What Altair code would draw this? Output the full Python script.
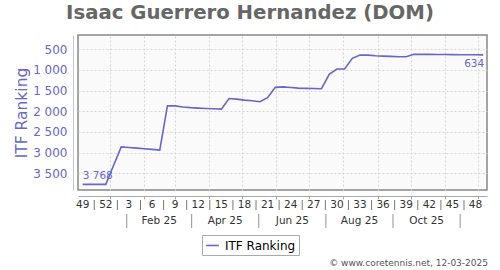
import altair as alt
import pandas as pd

TITLE = "Isaac Guerrero Hernandez (DOM)"
SERIES = "ITF Ranking"
COPYRIGHT = "© www.coretennis.net, 12-03-2025"

# weekly ranking values (first week: 2024-12-23)
first_week = "2024-12-23"
ranks = [3768, 3768, 3768, 3768, 3310, 2860, 2875, 2890, 2905, 2920, 2937,
         1865, 1868, 1895, 1912, 1922, 1932, 1940, 1947, 1690, 1705, 1730,
         1745, 1768, 1671, 1420, 1410, 1425, 1440, 1445, 1450, 1453, 1105,
         977, 977, 718, 638, 640, 655, 665, 672, 679, 679, 621, 622, 623,
         625, 627, 628, 630, 631, 632, 634]

week_labels = ["49", "52", "3", "6", "9", "12", "15", "18", "21", "24", "27",
               "30", "33", "36", "39", "42", "45", "48"]
month_labels = ["Feb 25", "Apr 25", "Jun 25", "Aug 25", "Oct 25"]
month_bounds = ["2025-02-01", "2025-04-01", "2025-06-01", "2025-08-01",
                "2025-10-01", "2025-12-01"]
grid_months = list(range(1, 13))
y_ticks = [500, 1000, 1500, 2000, 2500, 3000, 3500]

BLUE = "#6666cc"
FONT = "DejaVu Sans"

dates = pd.date_range(first_week, periods=len(ranks), freq="7D")
df = pd.DataFrame({"date": dates.strftime("%Y-%m-%dT00:00:00"),
                   "rank": ranks, "series": SERIES})

fmt = lambda v: f"{v:,}".replace(",", " ")
ann = pd.DataFrame({
    "date": [df["date"].iloc[0], df["date"].iloc[-1]],
    "rank": [ranks[0], ranks[-1]],
    "txt": [fmt(ranks[0]), fmt(ranks[-1])],
    "pos": ["first", "last"],
})

wk_dates = pd.date_range(first_week, periods=len(week_labels), freq="21D")
wk_df = pd.DataFrame({"date": wk_dates.strftime("%Y-%m-%dT00:00:00"), "lab": week_labels})
sep_dates = wk_dates[:-1] + pd.Timedelta(hours=252)
sep_df = pd.DataFrame({"date": sep_dates.strftime("%Y-%m-%dT%H:%M:%S")})

mb = pd.to_datetime(month_bounds)
mid = mb[:-1] + (mb[1:] - mb[:-1]) / 2
mon_df = pd.DataFrame({"date": mid.strftime("%Y-%m-%dT%H:%M:%S"), "lab": month_labels})
msep_df = pd.DataFrame({"date": mb.strftime("%Y-%m-%dT00:00:00")})

grid_vals = [alt.DateTime(year=2025, month=m, date=17) for m in grid_months]

xscale = alt.Scale(domain=[alt.DateTime(year=2024, month=12, date=18, hours=17),
                           alt.DateTime(year=2025, month=12, date=25, hours=10)])
yscale = alt.Scale(domain=[154, 3904], reverse=True, nice=False, zero=False)

line = alt.Chart(df).mark_line(strokeWidth=1.6).encode(
    x=alt.X("date:T", scale=xscale,
            axis=alt.Axis(values=grid_vals, tickCount=40, grid=True,
                          gridDash=[2, 2], gridColor="#d6d6d6", labels=False,
                          title=None, domainColor="#aaaaaa", offset=6,
                          tickSize=3, tickColor="#aaaaaa")),
    y=alt.Y("rank:Q", scale=yscale,
            axis=alt.Axis(values=y_ticks, tickCount=20, grid=True,
                          gridDash=[2, 2], gridColor="#d6d6d6", ticks=False,
                          offset=5, domainColor="#c0c0e0", labelColor=BLUE,
                          labelFontSize=12, labelFont=FONT, labelPadding=6,
                          labelOverlap=False, labelFlush=False,
                          labelExpr="replace(format(datum.value, ','), ',', ' ')",
                          title=SERIES, titleColor=BLUE, titleFontSize=15.5,
                          titleFont=FONT, titleFontWeight="normal",
                          titlePadding=3)),
    color=alt.Color("series:N",
                    scale=alt.Scale(domain=[SERIES], range=[BLUE]),
                    legend=alt.Legend(orient="none", legendX=124, legendY=200,
                                      title=None, symbolType="stroke",
                                      symbolStrokeWidth=1.6, symbolSize=160,
                                      labelFontSize=12, labelColor="black",
                                      labelFont=FONT, strokeColor="#aaaaaa",
                                      fillColor="white", padding=3,
                                      labelOffset=5, cornerRadius=0)),
)

ann_first = alt.Chart(ann).transform_filter("datum.pos == 'first'").mark_text(
    align="left", baseline="bottom", dy=-3, fontSize=10.5, font=FONT, color=BLUE
).encode(x="date:T", y="rank:Q", text="txt:N")

ann_last = alt.Chart(ann).transform_filter("datum.pos == 'last'").mark_text(
    align="right", baseline="top", dy=4, dx=1, fontSize=10.5, font=FONT, color=BLUE
).encode(x="date:T", y="rank:Q", text="txt:N")

wk_text = alt.Chart(wk_df).mark_text(
    baseline="middle", fontSize=10.5, font=FONT, color="#333333"
).encode(x="date:T", y=alt.value(170), text="lab:N")

wk_sep = alt.Chart(sep_df).mark_rule(color="#555555", strokeWidth=0.8).encode(
    x="date:T", y=alt.value(165), y2=alt.value(175))

mon_text = alt.Chart(mon_df).mark_text(
    baseline="middle", fontSize=10.5, font=FONT, color="#333333"
).encode(x="date:T", y=alt.value(186), text="lab:N")

mon_sep = alt.Chart(msep_df).mark_rule(color="#777777", strokeWidth=0.8).encode(
    x="date:T", y=alt.value(179), y2=alt.value(193))

title = alt.Chart(pd.DataFrame({"t": [TITLE]})).mark_text(
    fontSize=19.7, fontWeight="bold", font=FONT, color="#666666",
    baseline="middle", align="center"
).encode(x=alt.value(172), y=alt.value(-22), text="t:N")

copy = alt.Chart(pd.DataFrame({"t": [COPYRIGHT]})).mark_text(
    fontSize=9, font=FONT, color="#555555", baseline="middle", align="right"
).encode(x=alt.value(410), y=alt.value(228), text="t:N")

chart = alt.layer(line, ann_first, ann_last, wk_text, wk_sep, mon_text,
                  mon_sep, title, copy).properties(
    width=409, height=155,
    autosize=alt.AutoSizeParams(type="none"),
    padding={"left": 78, "top": 35, "right": 13, "bottom": 80},
    background="white",
).configure_view(fill="#fafafa", stroke="#888888", strokeWidth=1.5)

chart.save("out.html", embed_options={"renderer": "svg", "actions": False})
